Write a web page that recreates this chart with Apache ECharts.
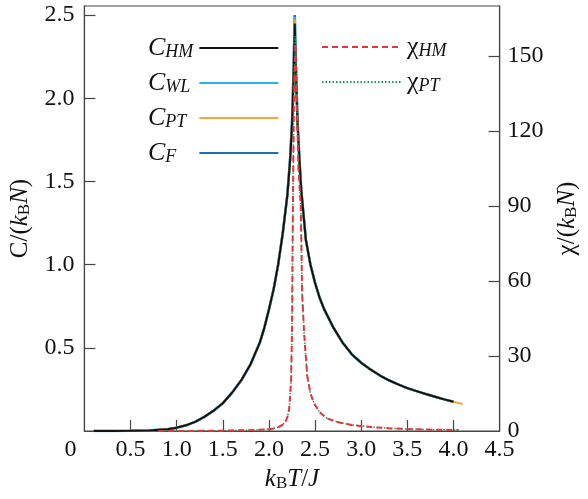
<!DOCTYPE html>
<html><head><meta charset="utf-8">
<script src="https://cdn.jsdelivr.net/npm/echarts@6/dist/echarts.min.js"></script>
<style>html,body{margin:0;padding:0;background:#fff}#c{width:588px;height:499px}</style>
</head><body><div id="c"></div>
<script>
// ---- data ----
const T_C = [0.1,0.3,0.5,0.7,0.9,1.0,1.1,1.2,1.3,1.4,1.5,1.6,1.7,1.8,1.9,1.95,2.0,2.05,2.1,2.15,2.2,2.23,2.25,2.26,2.27,2.28,2.29,2.31,2.33,2.35,2.4,2.45,2.5,2.55,2.6,2.7,2.8,2.9,3.0,3.1,3.2,3.3,3.4,3.5,3.6,3.7,3.8,3.9,4.0];
const C_HM = [0,0,0.001,0.003,0.011,0.02,0.034,0.055,0.085,0.122,0.167,0.23,0.305,0.4,0.53,0.62,0.73,0.85,1.0,1.19,1.42,1.63,1.84,2.0,2.2,2.45,2.2,1.85,1.63,1.45,1.15,1.0,0.89,0.80,0.73,0.62,0.53,0.46,0.41,0.37,0.335,0.305,0.28,0.258,0.24,0.222,0.206,0.19,0.176];
const C_WL = [0,0,0.001,0.003,0.011,0.02,0.034,0.055,0.085,0.122,0.167,0.23,0.305,0.4,0.53,0.62,0.73,0.85,1.0,1.19,1.42,1.64,1.85,2.02,2.24,2.49,2.22,1.86,1.64,1.45,1.15,1.0,0.89,0.80,0.73,0.62,0.53,0.46,0.41,0.37,0.335,0.305,0.28,0.258,0.24,0.222,0.206,0.19,0.176];
const T_PT = [0.1,0.3,0.5,0.7,0.9,1.0,1.1,1.2,1.3,1.4,1.5,1.6,1.7,1.8,1.9,1.95,2.0,2.05,2.1,2.15,2.2,2.23,2.25,2.26,2.27,2.28,2.29,2.31,2.33,2.35,2.4,2.45,2.5,2.55,2.6,2.7,2.8,2.9,3.0,3.1,3.2,3.3,3.4,3.5,3.6,3.7,3.8,3.9,4.0,4.1];
const C_PT = [0,0,0.001,0.003,0.011,0.02,0.034,0.055,0.085,0.122,0.167,0.23,0.305,0.4,0.53,0.62,0.73,0.85,1.0,1.19,1.42,1.63,1.84,2.01,2.22,2.47,2.21,1.85,1.63,1.45,1.15,1.0,0.89,0.80,0.73,0.62,0.53,0.46,0.41,0.37,0.335,0.305,0.28,0.258,0.24,0.222,0.206,0.19,0.176,0.162];
const C_F = [0,0,0.001,0.003,0.011,0.02,0.034,0.055,0.085,0.122,0.167,0.23,0.305,0.4,0.53,0.62,0.73,0.85,1.0,1.19,1.42,1.64,1.85,2.03,2.25,2.5,2.23,1.86,1.64,1.45,1.15,1.0,0.89,0.80,0.73,0.62,0.53,0.46,0.41,0.37,0.335,0.305,0.28,0.258,0.24,0.222,0.206,0.19,0.176];

const T_X = [0.8,1.0,1.2,1.4,1.6,1.8,1.9,2.0,2.05,2.1,2.15,2.18,2.2,2.22,2.24,2.25,2.26,2.27,2.285,2.3,2.32,2.345,2.36,2.38,2.415,2.45,2.49,2.55,2.63,2.75,2.9,3.1,3.3,3.5,3.8,4.05];
const X_HM = [0,0.02,0.05,0.1,0.2,0.35,0.5,0.7,1.0,1.5,2.5,3.8,5.5,9,20,40,90,130,155,135,105,90,55,40,22,15,11,7.5,5,3.5,2.4,1.6,1.1,0.8,0.5,0.4];
const T_XP = [0.8,1.0,1.2,1.4,1.6,1.8,1.9,2.0,2.05,2.1,2.15,2.18,2.2,2.22,2.24,2.25,2.26,2.27,2.285,2.3,2.32,2.345,2.36,2.38,2.415,2.45,2.49,2.55,2.63,2.75,2.9,3.1,3.3,3.5,3.8,4.08];
const X_PT = [0,0.02,0.05,0.1,0.2,0.35,0.5,0.7,1.0,1.5,2.5,3.8,5.5,9,20,40,92,133,158,137,106,90,55,40,22,15,11,7.5,5,3.5,2.4,1.6,1.1,0.8,0.5,0.4];

const X_LABELS = [0,0.5,1.0,1.5,2.0,2.5,3.0,3.5,4.0,4.5];
const X_TICKS = [0.5,1.0,1.5,2.0,2.5,3.0,3.5,4.0];
const Y_LABELS = [0.5,1.0,1.5,2.0,2.5];
const Y2_LABELS = [0,30,60,90,120,150];
const Y2_TICKS = [30,60,90,120,150];

const zip = (a,b)=>a.map((v,i)=>[v,b[i]]);
const FF = '"Liberation Serif", "Times New Roman", serif';
const AX = '#444';

const legRich = {
  c:{fontFamily:FF,fontSize:26,fontStyle:'italic',lineHeight:26,color:'#111'},
  x:{fontFamily:FF,fontSize:26,lineHeight:26,color:'#111'},
  s:{fontFamily:FF,fontSize:18,fontStyle:'italic',lineHeight:5,verticalAlign:'bottom',color:'#111'},
  pHM:{fontSize:10,width:1},
  pWL:{fontSize:10,width:4},
  pPT:{fontSize:10,width:8},
  pF:{fontSize:10,width:18}
};
const nameRich = {
  r:{fontFamily:FF,fontSize:25,lineHeight:26,color:'#111'},
  i:{fontFamily:FF,fontSize:25,fontStyle:'italic',lineHeight:26,color:'#111'},
  b:{fontFamily:FF,fontSize:17,lineHeight:5,verticalAlign:'bottom',color:'#111'}
};
const sub = {C_HM:'HM',C_WL:'WL',C_PT:'PT',C_F:'F',X_HM:'HM',X_PT:'PT'};

const lineSeries = (name, axis, data, color, width, type) => ({
  name, type:'line', yAxisIndex:axis, data, showSymbol:false, symbol:'none',
  lineStyle:{color, width, type:type||'solid'}, itemStyle:{color}
});

const chart = echarts.init(document.getElementById('c'));
chart.setOption({
  animation:false,
  textStyle:{fontFamily:FF},
  grid:{left:83,right:81,top:6,bottom:68,show:true,borderColor:AX,borderWidth:1.2,backgroundColor:'transparent'},
  legend:[
    {data:['C_HM','C_WL','C_PT','C_F'],orient:'vertical',left:143,top:30,itemGap:9,itemWidth:79,itemHeight:14,align:'right',selectedMode:false,
     itemStyle:{opacity:0},
     formatter:n=>'{c|C}{s|'+sub[n]+'}{p'+sub[n]+'| }',textStyle:{fontFamily:FF,rich:legRich}},
    {data:['X_HM','X_PT'],orient:'vertical',left:316,top:29,itemGap:9,itemWidth:80,itemHeight:14,align:'left',selectedMode:false,
     itemStyle:{opacity:0},
     formatter:n=>'{x|χ}{s|'+sub[n]+'}',textStyle:{fontFamily:FF,rich:legRich}}
  ],
  xAxis:{type:'value',min:0,max:4.5,interval:0.5,
    name:'{i|k}{b|B}{i|T}{r|/}{i|J}',nameLocation:'middle',nameGap:32,nameTextStyle:{fontFamily:FF,rich:nameRich},
    axisLine:{lineStyle:{color:AX,width:1.2}},
    axisTick:{inside:true,length:11,customValues:X_TICKS,lineStyle:{color:AX,width:1.2}},
    axisLabel:{customValues:X_LABELS,margin:7,fontFamily:FF,fontSize:24,color:'#111',
      formatter:v=>v===0?'{z|0}':v.toFixed(1),rich:{z:{fontFamily:FF,fontSize:24,color:'#111',padding:[0,28,0,0]}}},
    splitLine:{show:false}},
  yAxis:[
    {type:'value',min:0,max:2.555,interval:0.5,position:'left',
     name:'{r|C/(}{i|k}{b|B}{i|N}{r|)}',nameLocation:'middle',nameGap:48,nameTextStyle:{fontFamily:FF,rich:nameRich},
     axisLine:{show:true,lineStyle:{color:AX,width:1.2}},
     axisTick:{show:true,inside:true,length:11,customValues:Y_LABELS,lineStyle:{color:AX,width:1.2}},
     axisLabel:{customValues:Y_LABELS,align:'left',margin:40,fontFamily:FF,fontSize:24,color:'#111',formatter:v=>v.toFixed(1)},
     splitLine:{show:false}},
    {type:'value',min:0,max:170,interval:30,position:'right',
     name:'{r|χ/(}{i|k}{b|B}{i|N}{r|)}',nameLocation:'middle',nameGap:49,nameTextStyle:{fontFamily:FF,rich:nameRich},
     axisLine:{show:true,lineStyle:{color:AX,width:1.2}},
     axisTick:{show:true,inside:true,length:11,customValues:Y2_TICKS,lineStyle:{color:AX,width:1.2}},
     axisLabel:{customValues:Y2_LABELS,margin:8,fontFamily:FF,fontSize:24,color:'#111'},
     splitLine:{show:false}}
  ],
  series:[
    lineSeries('C_F',0,zip(T_C,C_F),'#1f6fae',2.5),
    lineSeries('C_WL',0,zip(T_C,C_WL),'#29b3e3',2.5),
    lineSeries('C_PT',0,zip(T_PT,C_PT),'#f2a93b',2),
    lineSeries('C_HM',0,zip(T_C,C_HM),'#111111',2),
    lineSeries('X_PT',1,zip(T_XP,X_PT),'#1e9a5a',1.5,[1.5,2]),
    lineSeries('X_HM',1,zip(T_X,X_HM),'#e8353c',2,[6,4])
  ]
});
</script></body></html>
